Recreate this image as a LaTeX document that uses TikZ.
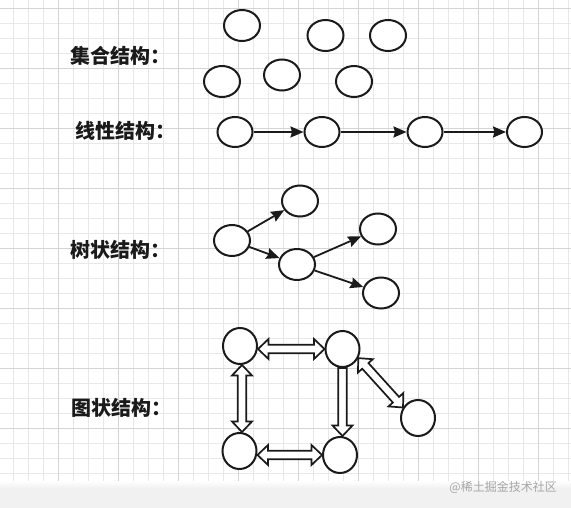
\documentclass[tikz,border=0pt]{standalone}
\usepackage{fontspec}
\newfontfamily\cjk{Noto Sans CJK SC}
\usetikzlibrary{shapes.geometric,arrows.meta,calc}
\definecolor{gridminor}{HTML}{E8E8E8}
\definecolor{gridmajor}{HTML}{D4D4D4}
\definecolor{ink}{HTML}{1A1A1A}
\definecolor{band}{HTML}{F1F1F1}
\definecolor{wm}{HTML}{A6A6A6}
\newcommand\hlen{10.5bp}
\newcommand\hwid{10bp}
\newcommand\swid{4.2bp}
% double-headed hollow block arrow between two named coordinates
\newcommand\hollowdouble[2]{%
  \draw[hollow] (#1)
    -- ($(#1)!\hlen!(#2)!\hwid!90:(#2)$)
    -- ($(#1)!\hlen!(#2)!\swid!90:(#2)$)
    -- ($(#2)!\hlen!(#1)!\swid!-90:(#1)$)
    -- ($(#2)!\hlen!(#1)!\hwid!-90:(#1)$)
    -- (#2)
    -- ($(#2)!\hlen!(#1)!\hwid!90:(#1)$)
    -- ($(#2)!\hlen!(#1)!\swid!90:(#1)$)
    -- ($(#1)!\hlen!(#2)!\swid!-90:(#2)$)
    -- ($(#1)!\hlen!(#2)!\hwid!-90:(#2)$)
    -- cycle;}
% single-headed hollow block arrow (head at second coordinate)
\newcommand\hollowsingle[2]{%
  \draw[hollow] ($(#1)!\swid!90:(#2)$)
    -- ($(#2)!\hlen!(#1)!\swid!-90:(#1)$)
    -- ($(#2)!\hlen!(#1)!\hwid!-90:(#1)$)
    -- (#2)
    -- ($(#2)!\hlen!(#1)!\hwid!90:(#1)$)
    -- ($(#2)!\hlen!(#1)!\swid!90:(#1)$)
    -- ($(#1)!\swid!-90:(#2)$)
    -- cycle;}
\begin{document}
\begin{tikzpicture}[x=1bp,y=-1bp,
  blob/.style={shape=ellipse, draw=ink, line width=2bp, fill=white,
    inner sep=0pt, minimum width=36bp, minimum height=31bp},
  lblob/.style={blob, minimum width=35bp, minimum height=30bp},
  gblob/.style={blob, minimum width=34bp, minimum height=36bp},
  label/.style={font=\cjk\bfseries\fontsize{20bp}{24bp}\selectfont,
    text=ink, anchor=base west, inner sep=0pt},
  link/.style={draw=ink, line width=1.8bp,
    -{Stealth[length=13bp,width=11bp,inset=1.5bp]}},
  hollow/.style={draw=ink, fill=white, line width=1.7bp, line join=miter}]
\useasboundingbox (0,0) rectangle (571,508);
\fill[white] (0,0) rectangle (571,508);
% grid
\foreach \k in {0,...,37} {
  \draw[gridminor, line width=0.8bp] (13+15*\k,0) -- (13+15*\k,487);
}
\foreach \k in {0,...,32} {
  \draw[gridminor, line width=0.8bp] (0,8+15*\k) -- (571,8+15*\k);
}
\foreach \k in {0,...,8} {
  \draw[gridmajor, line width=0.8bp] (58+60*\k,0) -- (58+60*\k,487);
}
\foreach \k in {0,...,7} {
  \draw[gridmajor, line width=0.8bp] (0,8+60*\k) -- (571,8+60*\k);
}
% bottom band
\shade[top color=white, bottom color=band] (0,481) rectangle (571,488);
\fill[band] (0,488) rectangle (571,508);
\node[font=\cjk\fontsize{12bp}{14bp}\selectfont, text=wm, anchor=east, inner sep=0pt] (wmark) at (557,487) {@稀土掘金技术社区};

% labels
\node[label] (lab1) at (70,64) {集合结构：};
\node[label] (lab2) at (75,139) {线性结构：};
\node[label] (lab3) at (70,257) {树状结构：};
\node[label] (lab4) at (71,415.5) {图状结构：};

% set
\node[blob] (s1) at (242,25.5) {};
\node[blob] (s2) at (325.5,35.5) {};
\node[blob] (s3) at (388,35.5) {};
\node[blob] (s4) at (222,81.5) {};
\node[blob] (s5) at (282,75) {};
\node[blob] (s6) at (354,81.5) {};

% linear
\node[lblob] (l1) at (235,132) {};
\node[lblob] (l2) at (322,132) {};
\node[lblob] (l3) at (425,132) {};
\node[lblob] (l4) at (524.5,132) {};
\draw[link] (l1) -- (l2);
\draw[link] (l2) -- (l3);
\draw[link] (l3) -- (l4);

% tree
\node[blob] (t1) at (232,240.5) {};
\node[blob] (t2) at (300,201) {};
\node[blob] (t3) at (297,264.5) {};
\node[blob] (t4) at (378,229) {};
\node[blob] (t5) at (381,293) {};
\draw[link] (t1) -- (t2);
\draw[link] (t1) -- (t3);
\draw[link] (t3) -- (t4);
\draw[link] (t3) -- (t5);

% graph
\node[gblob] (g1) at (240,346) {};
\node[gblob] (g2) at (342.5,349) {};
\node[gblob] (g3) at (239.5,451) {};
\node[gblob] (g4) at (340,455) {};
\node[gblob] (g5) at (418,418) {};
\coordinate (a1s) at (g1.east |- g2.west);
\coordinate (a1e) at (g2.west);
\coordinate (a2s) at ($(g1.south)+(2,0)$);
\coordinate (a2e) at ($(g3.north)+(2.5,0)$);
\coordinate (a3s) at (g3.east |- g4.west);
\coordinate (a3e) at (g4.west);
\coordinate (a4s) at (g2.south);
\coordinate (a4e) at (g2.south |- g4.north);
\coordinate (a5s) at (g2.-30);
\coordinate (a5e) at (g5.145);
\hollowdouble{a1s}{a1e}
\hollowdouble{a2s}{a2e}
\hollowdouble{a3s}{a3e}
\hollowsingle{a4s}{a4e}
\hollowdouble{a5s}{a5e}
\end{tikzpicture}
\end{document}
